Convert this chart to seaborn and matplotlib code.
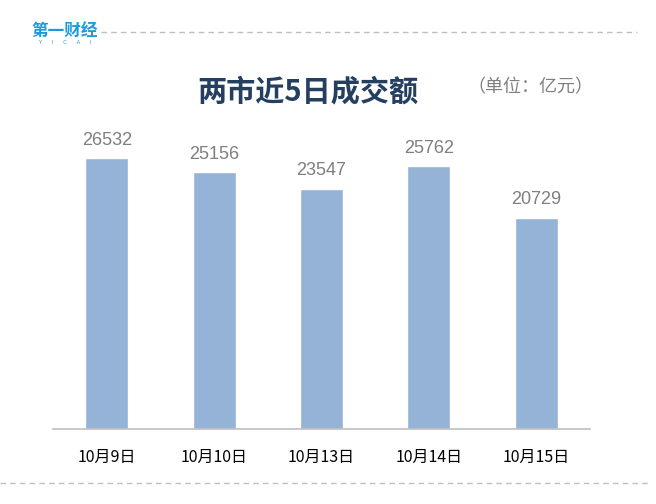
import seaborn as sns
import matplotlib.pyplot as plt
import pandas as pd
from matplotlib.lines import Line2D

dates = ['10月9日', '10月10日', '10月13日', '10月14日', '10月15日']
volumes = [26532, 25156, 23547, 25762, 20729]

sns.set_style('white')
plt.rcParams['font.family'] = ['Noto Sans CJK SC', 'DejaVu Sans']

df = pd.DataFrame({'date': dates, 'volume': volumes})

fig = plt.figure(figsize=(6.56, 5.04), dpi=100)
ax = fig.add_axes([53 / 656, 75 / 504, 537 / 656, 306 / 504])

sns.barplot(data=df, x='date', y='volume', color='#95b3d7', saturation=1,
            width=0.4, ax=ax)

ax.set_xlim(-0.5, 4.5)
ax.set_ylim(0, 30000)
ax.set_xlabel('')
ax.set_ylabel('')
ax.set_yticks([])
for s in ['top', 'right', 'left']:
    ax.spines[s].set_visible(False)
ax.spines['bottom'].set_color('#bfbfbf')
ax.spines['bottom'].set_linewidth(1.2)
ax.tick_params(axis='x', length=0, pad=14, labelsize=11.5, labelcolor='black')

for i, v in enumerate(volumes):
    ax.annotate(str(v), (i, v), xytext=(0, 7), textcoords='offset points',
                ha='center', va='bottom', fontsize=13, color='#7f7f7f',
                family=['Liberation Sans', 'DejaVu Sans'])

# title and unit
fig.text(308 / 656, 1 - 91 / 504, '两市近5日成交额', ha='center', va='center',
         fontsize=21, fontweight='bold', color='#243f60')
fig.text(530 / 656, 1 - 87 / 504, '（单位：亿元）', ha='center', va='center',
         fontsize=13, color='#7f7f7f')

# logo
fig.text(65 / 656, 1 - 31 / 504, '第一财经', ha='center', va='center',
         fontsize=12, fontweight='black', color='#1a9be0')
fig.text(65 / 656, 1 - 43 / 504, 'Y      I      C      A      I', ha='center',
         va='center', fontsize=3.8, color='#1a9be0', family=['DejaVu Sans'])

# dashed separator lines
fig.add_artist(Line2D([101 / 656, 637 / 656], [1 - 32 / 504, 1 - 32 / 504],
                      transform=fig.transFigure, color='#bfbfbf', lw=1,
                      linestyle=(0, (4, 3))))
fig.add_artist(Line2D([0, 648 / 656], [1 - 483 / 504, 1 - 483 / 504],
                      transform=fig.transFigure, color='#bfbfbf', lw=1,
                      linestyle=(0, (4, 3))))

fig.savefig('out.png', dpi=100)
